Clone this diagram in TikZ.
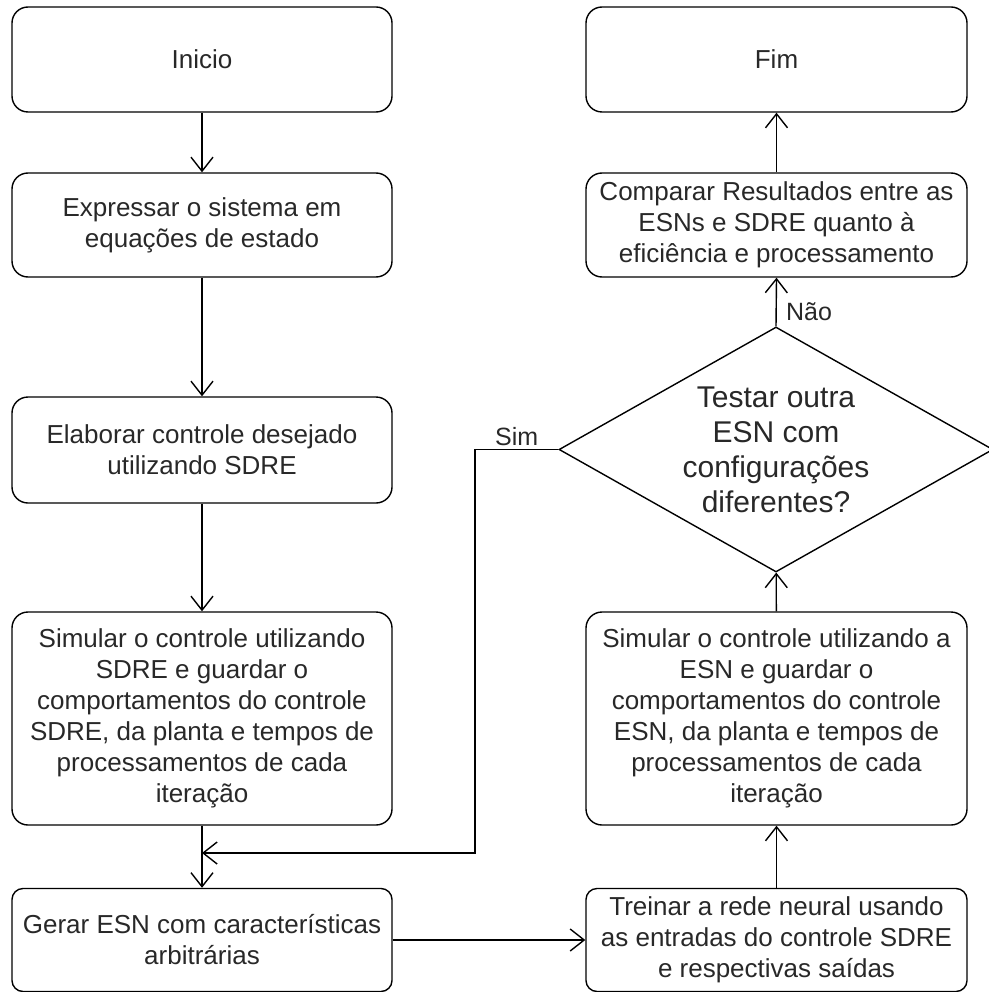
\documentclass[tikz,border=0pt]{standalone}
\usepackage{fontspec}
\setmainfont{Liberation Sans}
\usetikzlibrary{shapes.geometric,arrows.meta}
\definecolor{txt}{RGB}{40,40,40}
\begin{document}
\begin{tikzpicture}[x=1pt,y=-1pt,
  every node/.style={text=txt},
  box/.style={draw=black, line width=1.4pt, rounded corners=16pt, align=center,
    minimum width=380pt, inner sep=2pt, font=\fontsize{26}{31}\selectfont},
  sbox/.style={box, rounded corners=11pt},
  decis/.style={draw=black, line width=1.4pt, diamond, shape aspect=1.78, inner sep=-2pt,
    minimum width=434pt, minimum height=245pt, align=center, font=\fontsize{30}{35}\selectfont},
  lab/.style={font=\fontsize{25}{31}\selectfont},
  conn/.style={draw=black, line width=1.4pt, -{Straight Barb[length=14pt,width=22pt,line width=1.4pt]}}
]
\useasboundingbox (0,0) rectangle (988,992);
% left column
\node[box, minimum height=105pt] (inicio) at (202,59.5) {Inicio};
\node[box, minimum height=104pt] (expr) at (202,225) {Expressar o sistema em\\equações de estado};
\node[box, minimum height=106pt] (elab) at (202,450) {Elaborar controle desejado\\utilizando SDRE};
\node[box, minimum height=213pt] (simsdre) at (202,718.5) {Simular o controle utilizando\\SDRE e guardar o\\comportamentos do controle\\SDRE, da planta e tempos de\\processamentos de cada\\iteração};
\node[sbox, minimum height=103pt] (gerar) at (202,940) {Gerar ESN com características\\arbitrárias};
% right column
\node[box, minimum width=381pt, minimum height=105pt] (fim) at (776.5,59.5) {Fim};
\node[box, minimum width=381pt, minimum height=104pt, inner sep=1pt] (comp) at (776.5,225) {Comparar Resultados entre as\\ESNs e SDRE quanto à\\eficiência e processamento};
\node[decis] (dec) at (776,449.5) {Testar outra\\ESN com\\configurações\\diferentes?};
\node[box, minimum width=381pt, minimum height=213pt] (simesn) at (776.5,718.5) {Simular o controle utilizando a\\ESN e guardar o\\comportamentos do controle\\ESN, da planta e tempos de\\processamentos de cada\\iteração};
\node[sbox, minimum width=381pt, minimum height=103pt] (treinar) at (776.5,940) {Treinar a rede neural usando\\as entradas do controle SDRE\\e respectivas saídas};
% connectors
\coordinate (simc) at (475,853);
\draw[conn] (inicio) -- (expr);
\draw[conn] (expr) -- (elab);
\draw[conn] (elab) -- (simsdre);
\draw[conn] (simsdre) -- (gerar);
\draw[conn] (gerar) -- (treinar);
\draw[conn] (treinar) -- (simesn);
\draw[conn] (simesn) -- (dec);
\draw[conn] (dec.north) -- node[lab, pos=0.3, right, xshift=6pt] {Não} (comp.south);
\draw[conn] (comp) -- (fim);
\draw[conn] (dec.west) -| node[lab, pos=0.25, above, inner sep=3pt] {Sim} (simc) -- (simsdre.south |- simc);
\end{tikzpicture}
\end{document}
